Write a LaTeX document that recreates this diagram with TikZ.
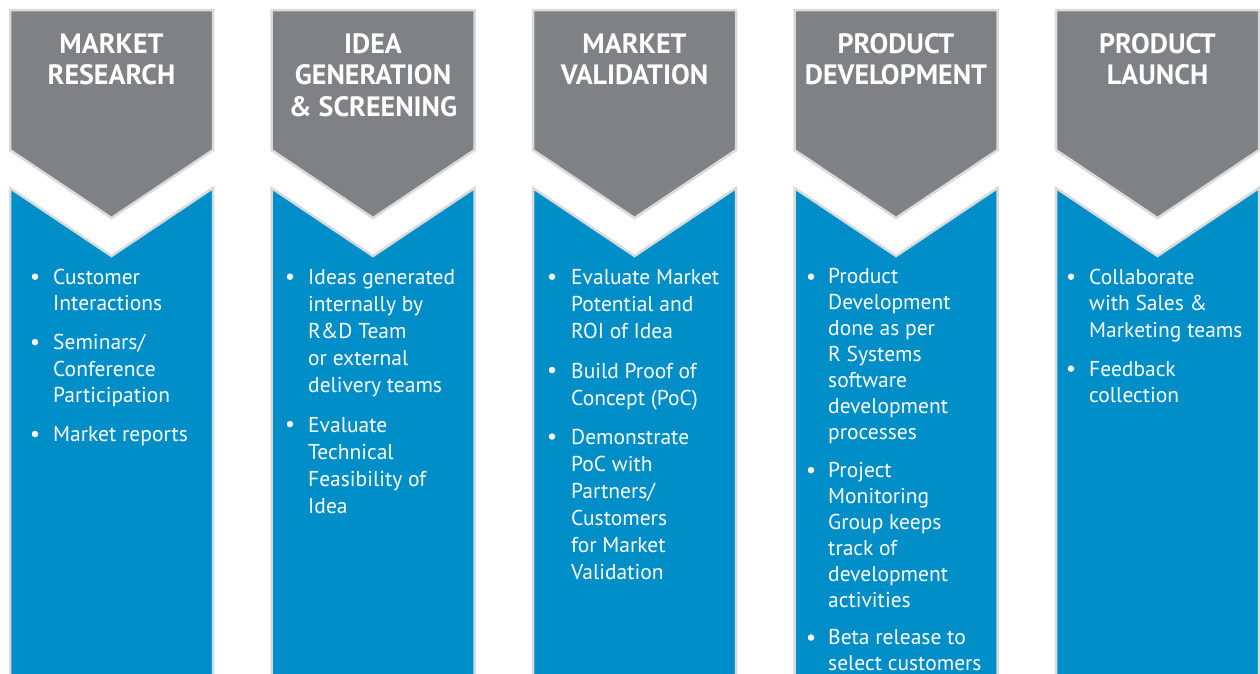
\documentclass[tikz,border=0pt]{standalone}
\usepackage{fontspec}
\setmainfont{PT Sans}
\usetikzlibrary{positioning, calc}
\definecolor{stagegray}{RGB}{128,129,133}
\definecolor{stageblue}{RGB}{0,142,201}
\definecolor{edgegray}{RGB}{217,218,220}
\newcommand{\itemlines}[1]{\begin{tabular}{@{}l@{}}#1\end{tabular}}
\newcommand{\titlelines}[1]{\begin{tabular}{@{}c@{}}#1\end{tabular}}

\begin{document}
\begin{tikzpicture}[
    x=1pt, y=-1pt,
    head/.style={fill=stagegray, draw=edgegray, line width=2.5pt, line join=miter},
    body/.style={fill=stageblue, draw=edgegray, line width=2.5pt, line join=miter},
    title/.style={text=white, inner sep=0pt, anchor=north,
                  font=\bfseries\fontsize{28}{31.5}\selectfont},
    item/.style={text=white, inner sep=0pt, anchor=north west,
                 font=\fontsize{21.5}{#1}\selectfont},
    item/.default=26.5,
    bul/.style={circle, fill=white, inner sep=0pt, minimum size=6.5pt},
]
    \useasboundingbox (0,0) rectangle (1260,673);

    % chevron headers and blue columns
    \draw[head] (10,10) -- (213,10) -- (213,150) -- (111.5,218) -- (10,150) -- cycle;
    \draw[body] (10,690) -- (10,188) -- (111.5,256) -- (213,188) -- (213,690);
    \draw[head] (271.5,10) -- (474.5,10) -- (474.5,150) -- (373,218) -- (271.5,150) -- cycle;
    \draw[body] (271.5,690) -- (271.5,188) -- (373,256) -- (474.5,188) -- (474.5,690);
    \draw[head] (533,10) -- (736,10) -- (736,150) -- (634.5,218) -- (533,150) -- cycle;
    \draw[body] (533,690) -- (533,188) -- (634.5,256) -- (736,188) -- (736,690);
    \draw[head] (794.5,10) -- (997.5,10) -- (997.5,150) -- (896,218) -- (794.5,150) -- cycle;
    \draw[body] (794.5,690) -- (794.5,188) -- (896,256) -- (997.5,188) -- (997.5,690);
    \draw[head] (1056,10) -- (1259,10) -- (1259,150) -- (1157.5,218) -- (1056,150) -- cycle;
    \draw[body] (1056,690) -- (1056,188) -- (1157.5,256) -- (1259,188) -- (1259,690);

    % stage titles
    \node[title] (t1) at (111.5,31) {\titlelines{MARKET\\RESEARCH}};
    \node[title] (t2) at (373,31) {\titlelines{IDEA\\GENERATION\\\& SCREENING}};
    \node[title] (t3) at (634.5,31) {\titlelines{MARKET\\VALIDATION}};
    \node[title] (t4) at (896,31) {\titlelines{PRODUCT\\DEVELOPMENT}};
    \node[title] (t5) at (1157.5,31) {\titlelines{PRODUCT\\LAUNCH}};

    % market research
    \node[item] (c1a) at (53,265.5) {\itemlines{Customer\\Interactions}};
    \node[item, below right=12pt and 0pt of c1a.south west] (c1b) {\itemlines{Seminars/\\Conference\\Participation}};
    \node[item, below right=12pt and 0pt of c1b.south west] (c1c) {\itemlines{Market reports}};

    % idea generation
    \node[item=27] (c2a) at (308,265.5) {\itemlines{Ideas generated\\internally by\\R\&D Team\\or external\\delivery teams}};
    \node[item=27, below right=12pt and 0pt of c2a.south west] (c2b) {\itemlines{Evaluate\\Technical\\Feasibility of\\Idea}};

    % market validation
    \node[item=27] (c3a) at (571,265.5) {\itemlines{Evaluate Market\\Potential and\\ROI of Idea}};
    \node[item=27, below right=12pt and 0pt of c3a.south west] (c3b) {\itemlines{Build Proof of\\Concept (PoC)}};
    \node[item=27, below right=12pt and 0pt of c3b.south west] (c3c) {\itemlines{Demonstrate\\PoC with\\Partners/\\Customers\\for Market\\Validation}};

    % product development
    \node[item=26] (c4a) at (828,265.5) {\itemlines{Product\\Development\\done as per\\R Systems\\software\\development\\processes}};
    \node[item=26, below right=11pt and 0pt of c4a.south west] (c4b) {\itemlines{Project\\Monitoring\\Group keeps\\track of\\development\\activities}};
    \node[item=26, below right=11pt and 0pt of c4b.south west] (c4c) {\itemlines{Beta release to\\select customers}};

    % product launch
    \node[item] (c5a) at (1089,265.5) {\itemlines{Collaborate\\with Sales \&\\Marketing teams}};
    \node[item, below right=12pt and 0pt of c5a.south west] (c5b) {\itemlines{Feedback\\collection}};

    % bullets
    \node[bul] (d1a) at ($(c1a.north west)+(-18,11.2)$) {};
    \node[bul] (d1b) at ($(c1b.north west)+(-18,11.2)$) {};
    \node[bul] (d1c) at ($(c1c.north west)+(-18,11.2)$) {};
    \node[bul] (d2a) at ($(c2a.north west)+(-18,11.2)$) {};
    \node[bul] (d2b) at ($(c2b.north west)+(-18,11.2)$) {};
    \node[bul] (d3a) at ($(c3a.north west)+(-19,11.2)$) {};
    \node[bul] (d3b) at ($(c3b.north west)+(-19,11.2)$) {};
    \node[bul] (d3c) at ($(c3c.north west)+(-19,11.2)$) {};
    \node[bul] (d4a) at ($(c4a.north west)+(-17,11.2)$) {};
    \node[bul] (d4b) at ($(c4b.north west)+(-17,11.2)$) {};
    \node[bul] (d4c) at ($(c4c.north west)+(-17,11.2)$) {};
    \node[bul] (d5a) at ($(c5a.north west)+(-18,11.2)$) {};
    \node[bul] (d5b) at ($(c5b.north west)+(-18,11.2)$) {};
\end{tikzpicture}
\end{document}
